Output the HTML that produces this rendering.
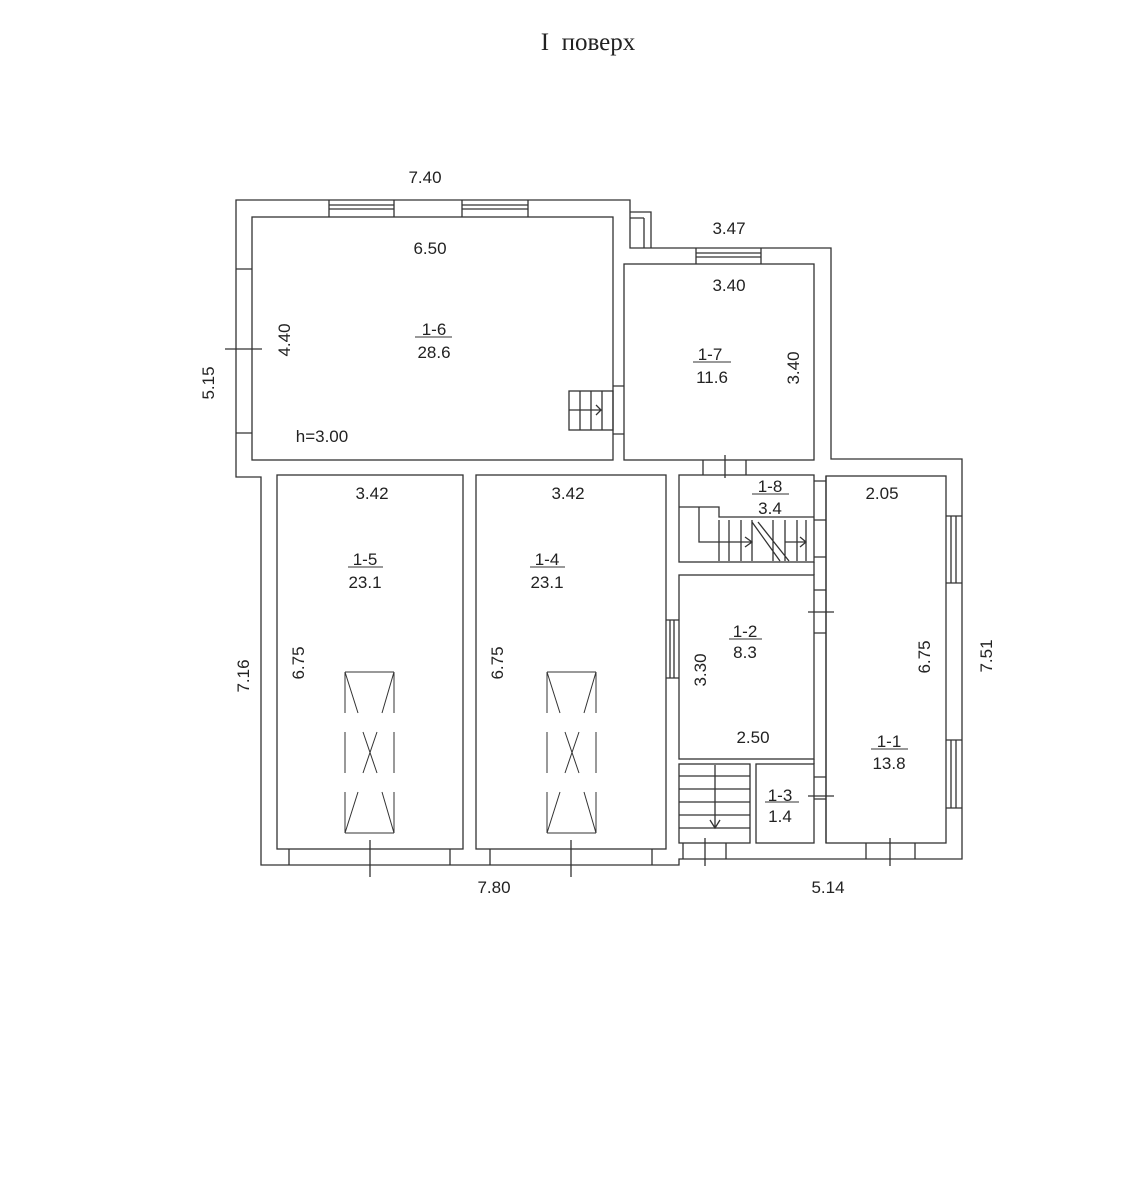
<!DOCTYPE html>
<html><head><meta charset="utf-8"><style>
html,body{margin:0;padding:0;background:#fff;}
svg{display:block}
text{font-family:"Liberation Sans",sans-serif;font-size:17px;fill:#222}
</style></head><body>
<svg width="1141" height="1200" viewBox="0 0 1141 1200" xmlns="http://www.w3.org/2000/svg">
<rect width="1141" height="1200" fill="#fff"/>
<text x="588" y="50" text-anchor="middle" style="font-family:'Liberation Serif',serif;font-size:25px">I&#160;&#160;поверх</text>
<g fill="none" stroke="#333" stroke-width="1.3">
<path d="M236 200 H630 V248 H831 V459 H962 V859 H679 V865 H261 V477 H236 Z"/>
<path d="M630 212 H651 V248 M644 218 V248 M630 218 H644"/>
<rect x="252" y="217" width="361" height="243"/>
<rect x="624" y="264" width="190" height="196"/>
<rect x="277" y="475" width="186" height="374"/>
<rect x="476" y="475" width="190" height="374"/>
<rect x="679" y="475" width="135" height="87"/>
<rect x="679" y="575" width="135" height="184"/>
<rect x="679" y="764" width="71" height="79"/>
<rect x="756" y="764" width="58" height="79"/>
<rect x="826" y="476" width="120" height="367"/>
<path d="M814 562 V575 M826 476 V843 M814 759 V764"/>
<path d="M329 200 V217 M394 200 V217 M329 205 H394 M329 209 H394 M462 200 V217 M528 200 V217 M462 205 H528 M462 209 H528"/>
<path d="M696 248 V264 M761 248 V264 M696 253 H761 M696 257 H761"/>
<path d="M236 269 H252 M236 433 H252 M225 349 H262"/>
<path d="M613 386 H624 M613 434 H624"/>
<rect x="569" y="391" width="44" height="39"/>
<path d="M580 391 V430 M591 391 V430 M602 391 V430 M569 410 H601 M596 405 L601 410 L596 415"/>
<path d="M703 460 V475 M746 460 V475 M725 455 V478"/>
<path d="M679 507 H719 V517 H814 M699 507 V542 H752 M745 537 L752 542 L745 547 M719 520 V561 M729 520 V561 M741 520 V561 M752 520 V561 M773 520 V561 M785 520 V561 M797 520 V561 M806 520 V561 M752 522 L780 561 M758 522 L789 561 M785 542 H806 M800 537 L806 542 L800 547"/>
<path d="M814 481 H826 M814 520 H826 M814 557 H826 M814 590 H826 M814 633 H826 M808 612 H834 M814 777 H826 M814 799 H826 M808 796 H834"/>
<path d="M946 516 H962 M946 583 H962 M951 516 V583 M956 516 V583 M946 740 H962 M946 808 H962 M951 740 V808 M956 740 V808"/>
<path d="M666 620 H679 M666 678 H679 M670 620 V678 M674 620 V678"/>
<path d="M289 849 V865 M450 849 V865 M490 849 V865 M652 849 V865 M370 840 V877 M571 840 V877"/>
<path d="M683 843 V859 M726 843 V859 M705 838 V866 M866 843 V859 M915 843 V859 M890 838 V866"/>
<path d="M679 776 H750 M679 789 H750 M679 802 H750 M679 815 H750 M679 828 H750 M715 765 V828 M710 820 L715 828 L720 820"/>
<g stroke-width="1">
<path d="M345 672 H394 M345 833 H394 M345 672 V713 M394 672 V713 M345 732 V773 M394 732 V773 M345 792 V833 M394 792 V833 M345 672 L358 713 M394 672 L382 713 M363 732 L377 773 M377 732 L363 773 M358 792 L345 833 M382 792 L394 833"/>
<path d="M547 672 H596 M547 833 H596 M547 672 V713 M596 672 V713 M547 732 V773 M596 732 V773 M547 792 V833 M596 792 V833 M547 672 L560 713 M596 672 L584 713 M565 732 L579 773 M579 732 L565 773 M560 792 L547 833 M584 792 L596 833"/>
</g>
<path d="M415 337 H452 M693 362 H731 M752 494 H789 M348 567 H383 M530 567 H565 M729 639 H762 M765 802 H799 M871 749 H908" stroke-width="1"/>
</g>
<g>
<text x="425" y="183" text-anchor="middle">7.40</text>
<text x="430" y="254" text-anchor="middle">6.50</text>
<text x="434" y="335" text-anchor="middle">1-6</text>
<text x="434" y="358" text-anchor="middle">28.6</text>
<text x="322" y="442" text-anchor="middle">h=3.00</text>
<text x="729" y="234" text-anchor="middle">3.47</text>
<text x="729" y="291" text-anchor="middle">3.40</text>
<text x="710" y="360" text-anchor="middle">1-7</text>
<text x="712" y="383" text-anchor="middle">11.6</text>
<text x="770" y="492" text-anchor="middle">1-8</text>
<text x="770" y="514" text-anchor="middle">3.4</text>
<text x="882" y="499" text-anchor="middle">2.05</text>
<text x="372" y="499" text-anchor="middle">3.42</text>
<text x="568" y="499" text-anchor="middle">3.42</text>
<text x="365" y="565" text-anchor="middle">1-5</text>
<text x="365" y="588" text-anchor="middle">23.1</text>
<text x="547" y="565" text-anchor="middle">1-4</text>
<text x="547" y="588" text-anchor="middle">23.1</text>
<text x="745" y="637" text-anchor="middle">1-2</text>
<text x="745" y="658" text-anchor="middle">8.3</text>
<text x="753" y="743" text-anchor="middle">2.50</text>
<text x="780" y="801" text-anchor="middle">1-3</text>
<text x="780" y="822" text-anchor="middle">1.4</text>
<text x="889" y="747" text-anchor="middle">1-1</text>
<text x="889" y="769" text-anchor="middle">13.8</text>
<text x="494" y="893" text-anchor="middle">7.80</text>
<text x="828" y="893" text-anchor="middle">5.14</text>
<text transform="translate(214,383) rotate(-90)" text-anchor="middle">5.15</text>
<text transform="translate(290,340) rotate(-90)" text-anchor="middle">4.40</text>
<text transform="translate(799,368) rotate(-90)" text-anchor="middle">3.40</text>
<text transform="translate(249,676) rotate(-90)" text-anchor="middle">7.16</text>
<text transform="translate(304,663) rotate(-90)" text-anchor="middle">6.75</text>
<text transform="translate(503,663) rotate(-90)" text-anchor="middle">6.75</text>
<text transform="translate(706,670) rotate(-90)" text-anchor="middle">3.30</text>
<text transform="translate(930,657) rotate(-90)" text-anchor="middle">6.75</text>
<text transform="translate(992,656) rotate(-90)" text-anchor="middle">7.51</text>
</g>
</svg>
</body></html>
